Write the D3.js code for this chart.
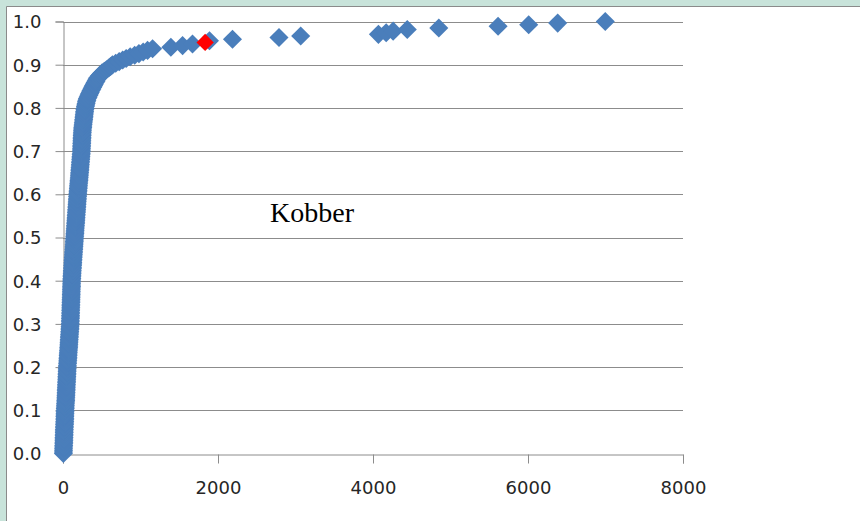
<!DOCTYPE html>
<html>
<head>
<meta charset="utf-8">
<script src="https://cdnjs.cloudflare.com/ajax/libs/d3/7.8.5/d3.min.js"></script>
<style>
  body { margin: 0; background: #ffffff; }
  svg { display: block; }
</style>
</head>
<body>
<div class="chart"></div>
<script>
// Cu values, sorted ascending (one per sample)
var cuValues = [
  5, 6, 7, 7, 8, 9, 10, 11, 12, 12, 13, 14, 15, 16,
  16, 17, 18, 19, 20, 21, 22, 23, 24, 24, 25, 26, 27,
  28, 29, 30, 31, 32, 34, 35, 36, 37, 38, 39, 40, 41, 42,
  43, 44, 45, 46, 47, 48, 49, 50, 51, 52, 53, 54, 55,
  56, 57, 59, 60, 62, 63, 65, 66, 67, 69, 70, 72, 73, 75,
  76, 77, 79, 80, 82, 83, 84, 86, 87, 89, 90, 91, 93,
  94, 95, 95, 96, 97, 97, 98, 99, 99, 100, 101, 101, 102, 103,
  104, 104, 105, 106, 106, 107, 108, 108, 109, 110, 110, 111, 112,
  112, 114, 115, 116, 118, 119, 120, 122, 123, 124, 126, 127, 128, 130,
  131, 133, 134, 136, 137, 139, 140, 142, 143, 145, 146, 148, 149,
  151, 152, 154, 155, 157, 158, 160, 161, 163, 164, 166, 167, 169,
  170, 172, 173, 175, 176, 178, 179, 181, 182, 184, 185, 187, 188, 190,
  191, 193, 195, 197, 199, 200, 202, 204, 206, 208, 210, 212, 213,
  215, 217, 218, 220, 222, 224, 225, 227, 229, 230, 232, 234, 236, 238,
  238, 239, 240, 241, 242, 243, 244, 245, 246, 247, 248, 250, 251,
  252, 255, 257, 260, 262, 265, 267, 270, 272, 274, 277, 279, 282, 285,
  289, 293, 298, 303, 308,
  315, 325, 334, 343, 352,
  362, 373, 383, 394,
  403, 415, 427, 438,
  450, 468, 487,
  505, 533, 561,
  590, 614, 638,
  680, 725, 770,
  815, 867,
  925, 980, 1035,
  1091, 1156, 1392, 1543, 1671, 1834, 1890, 2187, 2787, 3067,
  4070, 4170, 4260, 4442, 4849, 5614, 6009, 6383, 6997
];
// the sample marked in red
var highlightIndex = 256;

var xTicks = [0, 2000, 4000, 6000, 8000];
var yTicks = [0, 0.1, 0.2, 0.3, 0.4, 0.5, 0.6, 0.7, 0.8, 0.9, 1.0];
var chartLabel = "Kobber";

// cumulative share for each sorted value
var points = cuValues.map(function(v, i) {
  return { x: v, y: i / (cuValues.length - 1), hi: i === highlightIndex };
});

var width = 860, height = 521;

var svg = d3.select(".chart")
  .append("svg")
    .attr("width", width)
    .attr("height", height);

// green frame round the chart area
svg.append("rect")
  .attr("width", width).attr("height", height)
  .attr("fill", "#c8e3da");
svg.append("rect")
  .attr("x", 7).attr("y", 7)
  .attr("width", width - 7).attr("height", height - 7)
  .attr("fill", "#ffffff");
svg.append("line")
  .attr("x1", 6.5).attr("x2", width).attr("y1", 6.5).attr("y2", 6.5)
  .attr("stroke", "#8a8a8a");
svg.append("line")
  .attr("x1", 6.5).attr("x2", 6.5).attr("y1", 6.5).attr("y2", height)
  .attr("stroke", "#8a8a8a");

// scales
var x = d3.scaleLinear()
  .domain([0, 8000])
  .range([63, 683]);

var y = d3.scaleLinear()
  .domain([0, 1])
  .range([453.5, 21.5]);

// horizontal grid
svg.append("g")
  .selectAll("line")
  .data(yTicks.slice(1))
  .enter()
  .append("line")
    .attr("x1", x(0))
    .attr("x2", x(8000))
    .attr("y1", function(d) { return Math.round(y(d)) + 0.5; })
    .attr("y2", function(d) { return Math.round(y(d)) + 0.5; })
    .attr("stroke", "#8c8c8c")
    .attr("stroke-width", 1);

// X axis
var xAxis = d3.axisBottom(x)
  .tickValues(xTicks)
  .tickSize(9)
  .tickPadding(18)
  .tickFormat(function(d) { return d; });

var xAxisGroup = svg.append("g")
  .attr("transform", "translate(0," + (Math.round(y(0)) + 0.5) + ")")
  .call(xAxis);

// Y axis
var yAxis = d3.axisLeft(y)
  .tickValues(yTicks)
  .tickSize(8)
  .tickPadding(14)
  .tickFormat(d3.format(".1f"));

var yAxisGroup = svg.append("g")
  .attr("transform", "translate(" + (x(0) + 0.5) + ",0)")
  .call(yAxis);

[xAxisGroup, yAxisGroup].forEach(function(g) {
  g.select(".domain").attr("stroke", "#8c8c8c");
  g.selectAll(".tick line").attr("stroke", "#8c8c8c");
  g.selectAll(".tick text")
    .attr("fill", "#262626")
    .attr("font-family", "DejaVu Sans, sans-serif")
    .attr("font-size", "18px");
});
yAxisGroup.selectAll(".tick text").attr("dy", "0.36em");

// diamond markers
var diamond = d3.symbol().type(d3.symbolSquare).size(182);

svg.append("g")
  .selectAll("path")
  .data(points.filter(function(d) { return !d.hi; }))
  .enter()
  .append("path")
    .attr("d", diamond)
    .attr("transform", function(d) {
      return "translate(" + x(d.x) + "," + y(d.y) + ") rotate(45)";
    })
    .attr("fill", "#4a7ebb");

svg.append("g")
  .selectAll("path")
  .data(points.filter(function(d) { return d.hi; }))
  .enter()
  .append("path")
    .attr("d", d3.symbol().type(d3.symbolSquare).size(150))
    .attr("transform", function(d) {
      return "translate(" + x(d.x) + "," + y(d.y) + ") rotate(45)";
    })
    .attr("fill", "#ff0000");

// label inside the plot
svg.append("text")
  .attr("x", 270)
  .attr("y", 222)
  .attr("font-family", "Liberation Serif, serif")
  .attr("font-size", "28px")
  .attr("fill", "#000000")
  .text(chartLabel);
</script>
</body>
</html>
